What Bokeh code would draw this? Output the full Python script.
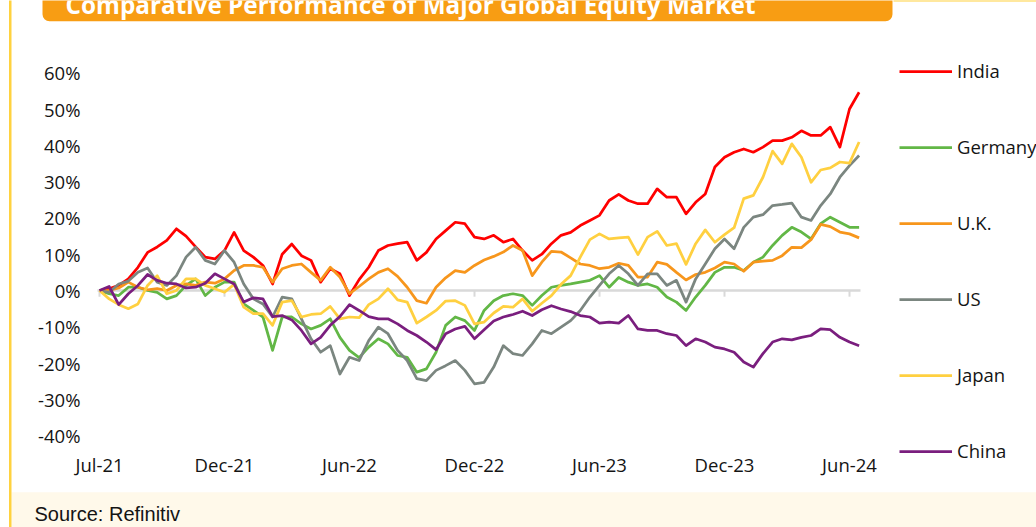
from datetime import timedelta
import pandas as pd
from bokeh.plotting import figure
from bokeh.models import (ColumnDataSource, Range1d, FixedTicker, DatetimeTickFormatter,
                          PrintfTickFormatter, Legend, LegendItem, BoxAnnotation, Label)
from bokeh.embed import file_html
from bokeh.resources import INLINE

# ---------------- data (cumulative % change since Jul-2021, biweekly) ----------------
dates = pd.date_range("2021-07-01", periods=80, freq="14D")

india = [0, 0.5, 1.4, 3.2, 6.4, 10.5, 12, 13.8, 17, 15, 12, 9.2, 8.7, 11, 16, 11, 9.2, 6.9, 1.8, 10,
         12.8, 9.6, 8.3, 2.3, 6, 4.6, -1.4, 3,
         6.4, 11, 12.4, 12.9, 13.3, 8.3, 10.5, 14.2, 16.5, 18.8, 18.4, 14.7, 14.2, 15.2, 13.3, 14.2, 11, 8.3,
         10, 12.9, 15.2, 16, 17.9, 19.3, 20.7, 24.8, 26.5,
         24.8, 23.9, 23.9, 28, 25.7, 25.7, 21.1, 24.3, 26.6, 34, 36.7, 38.1, 39, 38.1, 39.5, 41.3, 41.3, 42.2,
         44, 42.7, 42.7, 45, 39.5, 50, 54.6]
germany = [0, -0.9, -1.4, 0.9, 0.9, 0, -0.5, -2.3, -1.4, 1.4, 3.2, -1.4, 0.9, 2.3, 2.3, -3.7, -5.5, -7.3,
           -16.5, -7.3, -7.3, -9.2, -10.6, -9.6, -7.8, -12.9, -16.5, -18.5,
           -15.6, -13.3, -14.7, -17.9, -18.4, -22.5, -21.6, -17, -9.6, -7.3, -8.3, -11, -5.5, -2.8, -1.4, -0.9,
           -1.4, -4.1, -1.4, 0.9, 1.4, 1.8, 2.3, 2.8, 4.1, 0.9, 3.6,
           2.3, 1.4, 1.8, 0.9, -1.8, -3.2, -5.5, -1.8, 1.4, 5, 6.4, 6.4, 5.5, 7.8, 9.2, 12.4, 15.2, 17.4, 16.1,
           14.2, 18.4, 20.2, 18.8, 17.4, 17.4]
uk = [0, 0, 0.7, 2.3, 0.9, 0.2, 0.5, 0, 1.4, 1.8, 1.4, 2.3, 2, 3.2, 5.5, 6.9, 6.9, 6.4, 2.3, 6,
      6.9, 7.3, 5, 2.8, 6.4, 3.7, -0.9, 1.1,
      3.2, 5, 6, 3.9, 0.9, -2.8, -3.5, 0.9, 3.5, 5.5, 5, 6.9, 8.4, 9.4, 10.6, 12.4, 11, 4.1, 7.8, 10.8,
      10.6, 9, 7.3, 6.9, 6, 6.4, 7.5,
      6.9, 3.7, 3.7, 7.8, 7.2, 5, 2.9, 4.4, 5, 6.2, 7.8, 7.3, 5.3, 7.8, 8.1, 8.3, 9.6, 11.9, 11.8, 14,
      18.2, 17.6, 16.1, 15.6, 14.5]
us = [0, -0.5, 1.8, 2.6, 5, 6.2, 2.3, 1.4, 4.1, 9.2, 11.9, 8.3, 7.3, 11, 7.8, 1.8, -2.3, -3.7, -7.3, -1.8,
      -2.3, -7.8, -13.3, -17, -15.2, -23, -18.4, -19.3,
      -13.8, -10.1, -11.9, -16.5, -19.3, -24.3, -24.8, -22, -20.7, -19.3, -22, -25.7, -25.3, -21.1, -15.2,
      -17.4, -17.9, -14.7, -11, -11.9, -10.1, -8.3, -5.5, -1.8, 1.4, 4.6, 6.9,
      4.6, 1.4, 4.6, 4.6, 1.4, 2.8, -3.2, 3.2, 7.3, 11.5, 14.2, 11.5, 17.4, 20.2, 20.9, 23.4, 23.7, 24.1,
      20.2, 19.3, 23.4, 26.6, 31.2, 34.4, 37.2]
japan = [0, -2.3, -3.9, -5, -3.7, 1.4, 4.1, -0.9, 0, 3.2, 3.2, 1.4, 0.5, -0.5, 1.7, -4.6, -6.4, -6.4, -9.6,
         -3.2, -2.8, -7.3, -6.6, -6.4, -4.4, -7.8, -7.3, -7.5,
         -3.9, -2.3, 0.5, -2.6, -3.2, -9, -7.3, -5.5, -2.9, -2.8, -4.1, -9.2, -8.7, -6.2, -4.4, -4.6, -2.3,
         -5.7, -3.5, -1.4, 1.7, 4.1, 9.2, 14, 15.6, 14.2, 14.5,
         14.7, 9.9, 14.7, 16.3, 12.4, 12.9, 7.2, 12.9, 16.7, 13.3, 15.4, 17.3, 25.3, 26.2, 31.2, 38.4, 34.9,
         40.4, 36.7, 29.8, 33.2, 33.8, 35.4, 35.1, 40.9]
china = [0, 1.1, -3.9, -0.9, 1.4, 4.4, 2.8, 2, 1.8, 0.7, 0.9, 2, 4.6, 3.2, 1.8, -3.2, -2, -2.3, -7.2, -6.9,
         -8.1, -11, -14.7, -12.9, -9.6, -7.2, -3.9, -5.5,
         -7.2, -7.8, -7.8, -9.2, -11, -12.4, -14.2, -16.3, -11.9, -10.6, -9.9, -13.3, -10.8, -8.4, -7.3, -6.6,
         -5.7, -6.9, -5.3, -4.2, -5.1, -5.8, -6.9, -7.3, -9, -8.7, -9,
         -6.9, -10.6, -11, -11, -11.9, -12.4, -15.2, -13.3, -14.2, -15.6, -16.1, -17, -19.7, -21.1, -17.4,
         -14.2, -13.3, -13.6, -12.9, -12.4, -10.6, -10.8, -12.9, -14.2, -15.2]

series_names = ["India", "Germany", "U.K.", "US", "Japan", "China"]
series_values = [india, germany, uk, us, japan, china]
series_colors = ["#FF0000", "#62B746", "#F7961C", "#7B8680", "#FFD040", "#7A1E7E"]

tick_dates = pd.to_datetime(["2021-07-01", "2021-12-30", "2022-06-30", "2022-12-29",
                             "2023-06-29", "2023-12-28", "2024-06-27"])
tick_labels = ["Jul-21", "Dec-21", "Jun-22", "Dec-22", "Jun-23", "Dec-23", "Jun-24"]
y_ticks = [-40, -30, -20, -10, 0, 10, 20, 30, 40, 50, 60]

# ---------------- layout geometry (canvas pixels, top-left origin) ----------------
W, H = 1036, 527
X_FIRST_TICK, X_LAST_TICK = 99, 849      # pixel x of first / last date tick
Y_ZERO, PX_PER_PCT = 290, 3.63            # pixel y of 0 % and pixels per 1 %
px_per_day = (X_LAST_TICK - X_FIRST_TICK) / (tick_dates[-1] - tick_dates[0]).days
t0 = tick_dates[0]
x_start = t0 - timedelta(days=X_FIRST_TICK / px_per_day)
x_end = t0 + timedelta(days=(W - X_FIRST_TICK) / px_per_day)
y_top = Y_ZERO / PX_PER_PCT
y_bottom = -(H - Y_ZERO) / PX_PER_PCT

p = figure(width=W, height=H, x_axis_type="datetime",
           x_range=Range1d(x_start, x_end), y_range=Range1d(y_bottom, y_top),
           output_backend="svg", toolbar_location=None,
           min_border_left=0, min_border_right=0, min_border_top=0, min_border_bottom=0,
           background_fill_color="white", border_fill_color="white", outline_line_color=None)
p.grid.visible = False

FONT = "Open Sans"
TXT = "#141414"
xa = p.xaxis[0]
xa.fixed_location = -40
xa.ticker = FixedTicker(ticks=[t.value / 1e6 for t in tick_dates], minor_ticks=[])
xa.formatter = DatetimeTickFormatter(days="%b-%y", months="%b-%y", years="%b-%y")
xa.axis_line_color = None
xa.major_tick_line_color = None
xa.minor_tick_line_color = None
xa.major_tick_out = 0
xa.major_tick_in = 0
xa.major_label_standoff = 16
xa.major_label_text_font = FONT
xa.major_label_text_font_size = "18.5px"
xa.major_label_text_color = TXT

ya = p.yaxis[0]
ya.fixed_location = (t0 - timedelta(days=4 / px_per_day)).value / 1e6
ya.ticker = FixedTicker(ticks=y_ticks, minor_ticks=[])
ya.formatter = PrintfTickFormatter(format="%d%%")
ya.axis_line_color = None
ya.major_tick_line_color = None
ya.minor_tick_line_color = None
ya.major_tick_out = 0
ya.major_tick_in = 0
ya.major_label_standoff = 15
ya.major_label_text_font = FONT
ya.major_label_text_font_size = "18.5px"
ya.major_label_text_color = TXT

# ---------------- decorations (screen units, origin bottom-left of canvas) ----------------
def box(l, r, t, b, color, radius=0):
    # l, r, t, b given in canvas pixels from the top-left corner
    return BoxAnnotation(left=l, right=r, top=H - t, bottom=H - b,
                         left_units="screen", right_units="screen",
                         top_units="screen", bottom_units="screen",
                         fill_color=color, fill_alpha=1, line_color=None,
                         border_radius=radius, level="underlay")

p.add_layout(box(11, W + 2, 491.7, H + 2, "#FFF9EA"))          # source strip
p.add_layout(box(8.5, 11, -2, H + 2, "#FFD23F"))               # left border
p.add_layout(box(893, W + 2, -2, 1, "#FFD23F"))                # top-right rule
p.add_layout(box(42, 892, -30, 20.7, "#F89D13", 7))            # title banner

p.add_layout(Label(x=65, y=H - 3.5, x_units="screen", y_units="screen",
                   text="Comparative Performance of Major Global Equity Market",
                   text_color="white", text_font=FONT, text_font_style="bold",
                   text_font_size="24.3px", text_baseline="alphabetic"))
p.add_layout(Label(x=34, y=H - 513.5, x_units="screen", y_units="screen",
                   text="Source: Refinitiv", text_color=TXT,
                   text_font="Liberation Sans", text_font_size="20px",
                   text_baseline="alphabetic"))

# zero line with small tick marks
p.line(x=[t0 - timedelta(days=3), dates[-1] + timedelta(days=2)], y=[0, 0],
       line_color="#D9D9D9", line_width=2.5)
p.segment(x0=list(tick_dates), y0=[0] * len(tick_dates), x1=list(tick_dates),
          y1=[-1.7] * len(tick_dates), line_color="#D9D9D9", line_width=2)

data = {"date": dates}
for n, v in zip(series_names, series_values):
    data[n] = v
src = ColumnDataSource(data)

items = []
for n, c in zip(series_names, series_colors):
    r = p.line(x="date", y=n, source=src, line_color=c, line_width=2.75, line_join="round")
    items.append(LegendItem(label=n, renderers=[r]))

legend = Legend(items=items, location=(899, H - 463), orientation="vertical",
                glyph_width=53, glyph_height=24, label_height=24, spacing=51,
                padding=0, margin=0, label_standoff=5,
                border_line_color=None, background_fill_alpha=0,
                label_text_font=FONT, label_text_font_size="18.5px", label_text_color=TXT)
p.add_layout(legend)

open("out.html", "w").write(file_html(p, INLINE))
